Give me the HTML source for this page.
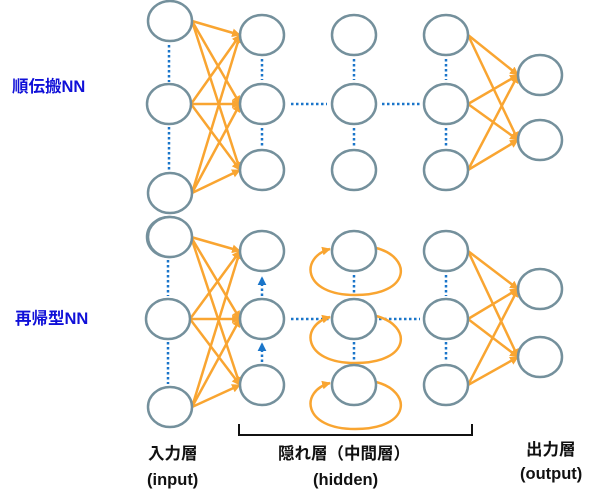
<!DOCTYPE html>
<html><head><meta charset="utf-8"><style>
html,body{margin:0;padding:0;background:#fff;width:600px;height:498px;overflow:hidden}
svg{display:block}
text{font-family:"Liberation Sans","Noto Sans CJK JP",sans-serif;font-weight:bold}
</style></head><body>
<svg id="s" width="600" height="498" viewBox="0 0 600 498" xmlns="http://www.w3.org/2000/svg">
<defs>
<marker id="ah" viewBox="0 0 10 10" refX="9" refY="5" markerWidth="3.5" markerHeight="3.5" orient="auto" markerUnits="strokeWidth">
<path d="M0,0 L10,5 L0,10 z" fill="#F9A531"/></marker>
<marker id="bh" viewBox="0 0 10 10" refX="8" refY="5" markerWidth="3.5" markerHeight="3.5" orient="auto" markerUnits="strokeWidth">
<path d="M0,0 L10,5 L0,10 z" fill="#1a75c9"/></marker>
</defs>
<g id="g"></g>
<text x="12" y="92" font-size="16.5" fill="#1010d8">順伝搬NN</text>
<text x="15" y="324" font-size="16.5" fill="#1010d8">再帰型NN</text>
<text x="148" y="459" font-size="16.5" fill="#111">入力層</text>
<text x="147" y="485" font-size="16.5" fill="#111">(input)</text>
<text x="278" y="459" font-size="16.5" fill="#111">隠れ層（中間層）</text>
<text x="313" y="485" font-size="16.5" fill="#111">(hidden)</text>
<text x="526" y="455" font-size="16.5" fill="#111">出力層</text>
<text x="520" y="479" font-size="16.5" fill="#111">(output)</text>
<path d="M239,424 V435 H472 V424" fill="none" stroke="#111" stroke-width="2"/>
</svg>
<script>
const g=document.getElementById('g');const NS='http://www.w3.org/2000/svg';
function el(t,a){const e=document.createElementNS(NS,t);for(const k in a)e.setAttribute(k,a[k]);g.appendChild(e);return e}
const O='#F9A531',B='#1a75c9',C='#74909c';
function dot(x1,y1,x2,y2,m){const a={x1,y1,x2,y2,stroke:B,'stroke-width':2.5,'stroke-dasharray':'2.5 2.5'};if(m)a['marker-end']='url(#bh)';el('line',a)}
function arr(x1,y1,x2,y2){el('line',{x1,y1,x2,y2,stroke:O,'stroke-width':2.5,'marker-end':'url(#ah)'})}
function full(A,Bn){A.forEach(a=>Bn.forEach(b=>arr(a[0]+22,a[1],b[0]-22,b[1])))}
const ti=[[170,21],[169,104],[170,193]],h1=[[262,35],[262,104],[262,170]],h2=[[354,35],[354,104],[354,170]],h3=[[446,35],[446,104],[446,170]],to=[[540,75],[540,140]];
dot(169,45,169,82);dot(169,127,169,170);
dot(262,59,262,80);dot(262,128,262,147);dot(354,59,354,80);dot(354,128,354,147);dot(446,59,446,80);dot(446,128,446,147);
dot(291,104,327,104);dot(382,104,420,104);
full(ti,h1);full(h3,to);
const bi=[[169,237],[168,319],[170,407]],g1=[[262,251],[262,319],[262,385]],g2=[[354,251],[354,319],[354,385]],g3=[[446,251],[446,319],[446,385]],bo=[[540,289],[540,357]];
dot(168,260,168,296);dot(168,342,168,384);
dot(262,296,262,278,1);dot(262,362,262,344,1);
dot(354,275,354,296);dot(354,342,354,362);dot(446,275,446,296);dot(446,342,446,362);
dot(291,319,329,319);dot(379,319,420,319);
full(bi,g1);full(g3,bo);
[251,319,385].forEach(y=>{el('path',{d:`M376,${y-3} C412,${y+6} 412,${y+44} 355,${y+44} C302,${y+44} 300,${y+6} 330,${y-2}`,fill:'none',stroke:O,'stroke-width':2.5,'marker-end':'url(#ah)'})});
[ti,h1,h2,h3,to,bi,g1,g2,g3,bo].forEach(L=>L.forEach(p=>el('ellipse',{cx:p[0],cy:p[1],rx:22,ry:20,fill:'none',stroke:C,'stroke-width':2.5})));
el('ellipse',{cx:170,cy:237,rx:22,ry:20,fill:'#fff',stroke:C,'stroke-width':2.5});
</script>
</body></html>
